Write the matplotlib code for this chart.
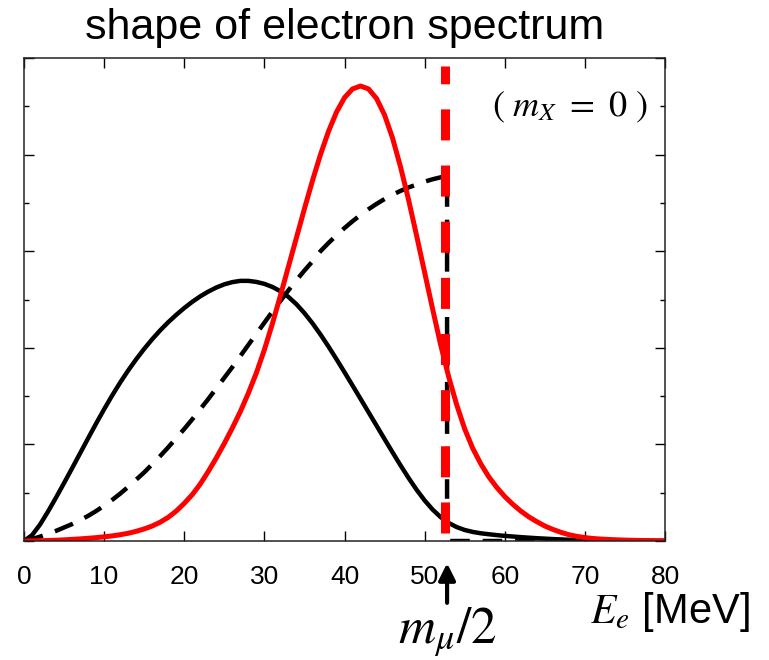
import numpy as np
import matplotlib

matplotlib.use("Agg")
import matplotlib.pyplot as plt
from matplotlib.ticker import MultipleLocator, NullFormatter

plt.rcParams["font.family"] = ["Liberation Sans", "DejaVu Sans"]
plt.rcParams["mathtext.fontset"] = "stix"

# electron energy spectra (arbitrary units), 1 MeV steps
x_solid = list(range(0, 61)) + [62, 64, 66, 68, 70, 72, 75, 80]
y_solid = [0, 0.06, 0.17, 0.305, 0.45, 0.60, 0.753, 0.908, 1.063, 1.216,
           1.364, 1.506, 1.64, 1.765, 1.881, 1.989, 2.089, 2.181, 2.265, 2.341,
           2.412, 2.476, 2.533, 2.582, 2.624, 2.657, 2.680, 2.693, 2.693, 2.682,
           2.662, 2.630, 2.586, 2.527, 2.451, 2.359, 2.254, 2.138, 2.013, 1.882,
           1.747, 1.610, 1.472, 1.333, 1.194, 1.055, 0.917, 0.782, 0.652, 0.530,
           0.420, 0.325, 0.247, 0.187, 0.144, 0.114, 0.094, 0.080, 0.070, 0.061,
           0.053, 0.040, 0.029, 0.020, 0.013, 0.008, 0.005, 0.002, 0]

x_dash = list(range(0, 53)) + [52.8, 52.8, 80]
y_dash = [0, 0.02, 0.045, 0.075, 0.105, 0.14, 0.175, 0.215, 0.26, 0.31,
          0.365, 0.425, 0.49, 0.56, 0.635, 0.71, 0.795, 0.88, 0.97, 1.065,
          1.16, 1.26, 1.365, 1.47, 1.58, 1.69, 1.80, 1.915, 2.03, 2.145,
          2.26, 2.375, 2.485, 2.595, 2.70, 2.80, 2.895, 3.00, 3.085, 3.165,
          3.24, 3.31, 3.375, 3.435, 3.49, 3.54, 3.585, 3.625, 3.66, 3.69,
          3.72, 3.745, 3.765, 3.775, 0, 0]

x_red = list(range(0, 73)) + [74, 76, 78, 80]
y_red = [0, 0.001, 0.003, 0.005, 0.008, 0.012, 0.017, 0.022, 0.028, 0.035,
         0.043, 0.053, 0.065, 0.08, 0.10, 0.125, 0.155, 0.195, 0.245, 0.31,
         0.39, 0.48, 0.59, 0.72, 0.86, 1.01, 1.17, 1.34, 1.53, 1.74,
         1.98, 2.25, 2.54, 2.84, 3.14, 3.44, 3.73, 4.00, 4.24, 4.44,
         4.59, 4.68, 4.71, 4.68, 4.58, 4.41, 4.17, 3.87, 3.53, 3.16,
         2.78, 2.40, 2.03, 1.70, 1.41, 1.16, 0.96, 0.80, 0.665, 0.555,
         0.46, 0.38, 0.31, 0.25, 0.20, 0.155, 0.12, 0.09, 0.065, 0.048,
         0.035, 0.026, 0.02, 0.012, 0.007, 0.004, 0.002]

endpoint = 52.5  # m_mu / 2 marker

fig = plt.figure(figsize=(7.69, 6.60), dpi=100)
ax = fig.add_axes([0.0312, 0.1803, 0.8336, 0.7318])

ax.plot(x_solid, y_solid, color="black", lw=3.2, solid_joinstyle="round")
ax.plot(x_dash, y_dash, color="black", lw=3.2, dashes=(4.4, 2.9))
ax.plot(x_red, y_red, color="red", lw=3.6, solid_joinstyle="round")
ax.plot([endpoint, endpoint], [0.083, 4.92], color="red", lw=6.5, dashes=(3.44, 2.78))

ax.set_xlim(0, 80)
ax.set_ylim(0, 5)
ax.xaxis.set_major_locator(MultipleLocator(10))
ax.yaxis.set_major_locator(MultipleLocator(1))
ax.yaxis.set_minor_locator(MultipleLocator(0.5))
ax.yaxis.set_major_formatter(NullFormatter())
ax.tick_params(axis="x", direction="in", top=True, bottom=True, length=7, width=1,
               labelsize=19, pad=17)
ax.tick_params(axis="y", which="major", direction="in", left=True, right=True, length=7, width=1)
ax.tick_params(axis="y", which="minor", direction="in", left=True, right=True, length=3.5, width=1)
for s in ax.spines.values():
    s.set_linewidth(1.1)
    s.set_color("#222222")

ax.set_title("shape of electron spectrum", fontsize=31, pad=14)

ax.text(0.852, 0.898, r"$(\ m_X\ =\ 0\ )$", transform=ax.transAxes, fontsize=26,
        ha="center", va="center")

ax.annotate("", xy=(52.8, -0.23), xytext=(52.8, -0.64), annotation_clip=False,
            arrowprops=dict(arrowstyle="-|>", lw=3, color="black", mutation_scale=25,
                            shrinkA=0, shrinkB=0))
ax.text(52.9, -0.95, r"$m_\mu/2$", fontsize=37, ha="center", va="center", clip_on=False)

fig.text(0.871, 0.073, r"$E_e$ [MeV]", fontsize=30, ha="center", va="center")

fig.savefig("out.png", dpi=100)
